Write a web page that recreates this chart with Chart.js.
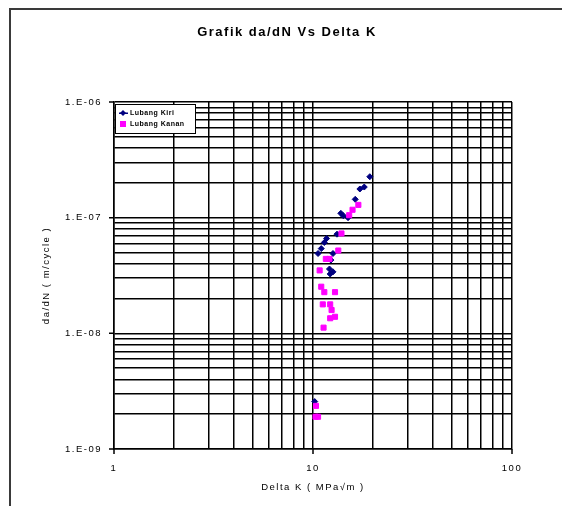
<!DOCTYPE html>
<html>
<head>
<meta charset="utf-8">
<script src="https://cdn.jsdelivr.net/npm/chart.js@4.4.1/dist/chart.umd.min.js"></script>
<style>
  html, body { margin: 0; padding: 0; background: #fff; }
  #wrap { width: 562px; height: 506px; }
</style>
</head>
<body>
<div id="wrap"><canvas id="chart" width="562" height="506"></canvas></div>
<script>
// Lubang Kiri (left hole)
const kiriDeltaK = [10.2, 10.6, 11.0, 11.4, 11.7, 12.1, 12.2, 12.3, 12.6, 12.6, 13.2, 13.8, 14.2, 15.0, 16.3, 17.2, 18.1, 19.3];
const kiriDadN   = [2.57e-9, 4.9e-8, 5.4e-8, 6.1e-8, 6.6e-8, 3.6e-8, 3.26e-8, 4.3e-8, 4.9e-8, 3.4e-8, 7.2e-8, 1.09e-7, 1.04e-7, 1.0e-7, 1.44e-7, 1.77e-7, 1.84e-7, 2.26e-7];

// Lubang Kanan (right hole)
const kananDeltaK = [10.35, 10.3, 10.6, 10.8, 11.0, 11.3, 11.2, 11.4, 11.6, 12.1, 12.2, 12.4, 12.2, 12.9, 12.9, 13.4, 13.9, 15.2, 15.8, 16.9];
const kananDadN   = [2.36e-9, 1.9e-9, 1.9e-9, 3.5e-8, 2.53e-8, 1.12e-8, 1.78e-8, 2.27e-8, 4.4e-8, 4.4e-8, 1.78e-8, 1.59e-8, 1.35e-8, 1.39e-8, 2.27e-8, 5.2e-8, 7.3e-8, 1.05e-7, 1.17e-7, 1.29e-7];

const seriesNames = ['Lubang Kiri', 'Lubang Kanan'];

const xTickValues = [1, 10, 100];
const xTickLabels = ['1', '10', '100'];
const yTickValues = [1e-9, 1e-8, 1e-7, 1e-6];
const yTickLabels = ['1.E-09', '1.E-08', '1.E-07', '1.E-06'];

const FONT = '"Liberation Sans", Arial, sans-serif';

function toPoints(xs, ys) {
  return xs.map((x, i) => ({ x: x, y: ys[i] }));
}

function labelFor(value, values, labels) {
  for (let i = 0; i < values.length; i++) {
    if (Math.abs(Math.log10(value) - Math.log10(values[i])) < 1e-6) return labels[i];
  }
  return '';
}

// 1..9 per decade, like the excel log grid
function decadeTicks(scale) {
  const lo = Math.round(Math.log10(scale.min));
  const hi = Math.round(Math.log10(scale.max));
  const ticks = [];
  for (let e = lo; e < hi; e++) {
    for (let d = 1; d <= 9; d++) ticks.push({ value: d * Math.pow(10, e) });
  }
  ticks.push({ value: Math.pow(10, hi) });
  scale.ticks = ticks;
}

const decor = {
  id: 'decor',
  beforeDraw(chart) {
    const ctx = chart.ctx;
    ctx.save();
    ctx.fillStyle = '#fff';
    ctx.fillRect(0, 0, chart.width, chart.height);
    ctx.strokeStyle = '#3a3a3a';
    ctx.lineWidth = 2;
    ctx.beginPath();
    ctx.moveTo(562, 9);
    ctx.lineTo(10, 9);
    ctx.lineTo(10, 506);
    ctx.stroke();
    ctx.restore();
    ctx.letterSpacing = '1.5px';
  },
  afterDraw(chart) {
    const ctx = chart.ctx;
    const area = chart.chartArea;
    const xs = chart.scales.x;
    const ys = chart.scales.y;
    ctx.save();

    // outward tick marks at the decades
    ctx.strokeStyle = '#000';
    ctx.lineWidth = 1.5;
    ctx.beginPath();
    xTickValues.forEach(v => {
      const px = xs.getPixelForValue(v);
      ctx.moveTo(px, area.bottom);
      ctx.lineTo(px, area.bottom + 5);
    });
    yTickValues.forEach(v => {
      const py = ys.getPixelForValue(v);
      ctx.moveTo(area.left - 5, py);
      ctx.lineTo(area.left, py);
    });
    ctx.stroke();

    // title
    ctx.letterSpacing = '1.5px';
    ctx.fillStyle = '#000';
    ctx.font = 'bold 13px ' + FONT;
    ctx.textAlign = 'center';
    ctx.textBaseline = 'middle';
    ctx.fillText('Grafik da/dN Vs Delta K', 287, 32);

    // legend box inside the plot
    const lx = area.left + 1, ly = area.top + 2, lw = 80, lh = 29;
    ctx.fillStyle = '#fff';
    ctx.fillRect(lx, ly, lw, lh);
    ctx.strokeStyle = '#000';
    ctx.lineWidth = 1;
    ctx.strokeRect(lx + 0.5, ly + 0.5, lw, lh);

    ctx.letterSpacing = '0.5px';
    ctx.font = 'bold 7px ' + FONT;
    ctx.textAlign = 'left';
    const rows = [ly + 9, ly + 20];
    // blue diamond
    ctx.fillStyle = '#000080';
    ctx.beginPath();
    ctx.moveTo(lx + 8, rows[0] - 3);
    ctx.lineTo(lx + 11, rows[0]);
    ctx.lineTo(lx + 8, rows[0] + 3);
    ctx.lineTo(lx + 5, rows[0]);
    ctx.closePath();
    ctx.fill();
    ctx.fillRect(lx + 4, rows[0] - 0.5, 9, 1.5);
    // magenta square
    ctx.fillStyle = '#ff00ff';
    ctx.fillRect(lx + 5, rows[1] - 3, 6, 6);

    ctx.fillStyle = '#000';
    ctx.fillText(seriesNames[0], lx + 15, rows[0]);
    ctx.fillText(seriesNames[1], lx + 15, rows[1]);
    ctx.restore();
  }
};

new Chart(document.getElementById('chart'), {
  type: 'scatter',
  data: {
    datasets: [
      {
        label: seriesNames[0],
        data: toPoints(kiriDeltaK, kiriDadN),
        pointStyle: 'rectRot',
        pointRadius: 3,
        pointHoverRadius: 3,
        backgroundColor: '#000080',
        borderColor: '#000080',
        borderWidth: 1,
        order: 1
      },
      {
        label: seriesNames[1],
        data: toPoints(kananDeltaK, kananDadN),
        pointStyle: 'rect',
        pointRadius: 3.6,
        pointHoverRadius: 3.6,
        backgroundColor: '#ff00ff',
        borderColor: '#ff00ff',
        borderWidth: 1,
        order: 0
      }
    ]
  },
  options: {
    responsive: false,
    animation: false,
    events: [],
    layout: { padding: { top: 102, right: 50, bottom: 8, left: 41 } },
    plugins: {
      legend: { display: false },
      title: { display: false },
      tooltip: { enabled: false }
    },
    scales: {
      x: {
        type: 'logarithmic',
        min: 1,
        max: 100,
        afterBuildTicks: decadeTicks,
        afterFit(scale) { scale.height = 49; },
        grid: { color: '#000', lineWidth: 1.5, drawTicks: false },
        border: { color: '#000', width: 1.5 },
        ticks: {
          autoSkip: false,
          maxRotation: 0,
          padding: 14,
          color: '#000',
          font: { family: FONT, size: 9.5 },
          callback: v => labelFor(v, xTickValues, xTickLabels)
        },
        title: {
          display: true,
          text: 'Delta K ( MPa√m )',
          color: '#000',
          font: { family: FONT, size: 9.5 },
          padding: { top: 0, bottom: 5 }
        }
      },
      y: {
        type: 'logarithmic',
        min: 1e-9,
        max: 1e-6,
        afterBuildTicks: decadeTicks,
        afterFit(scale) { scale.width = 73; },
        grid: { color: '#000', lineWidth: 1.5, drawTicks: false },
        border: { color: '#000', width: 1.5 },
        ticks: {
          autoSkip: false,
          padding: 12,
          color: '#000',
          font: { family: FONT, size: 9.5 },
          callback: v => labelFor(v, yTickValues, yTickLabels)
        },
        title: {
          display: true,
          text: 'da/dN ( m/cycle )',
          color: '#000',
          font: { family: FONT, size: 9.5 },
          padding: { top: 0, bottom: 0 }
        }
      }
    }
  },
  plugins: [decor]
});
</script>
</body>
</html>
